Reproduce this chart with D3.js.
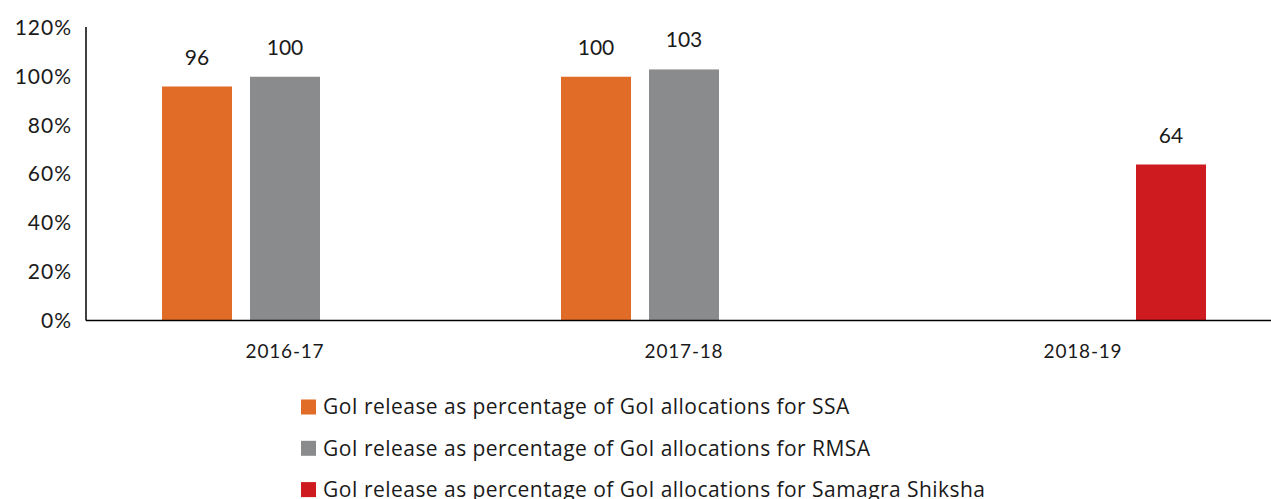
<!DOCTYPE html>
<html><head><meta charset="utf-8">
<script src="https://cdn.jsdelivr.net/npm/d3@7"></script>
<style>body{margin:0;background:#fff}svg{display:block;font-family:Lato,"Open Sans",sans-serif}</style>
</head><body><svg id="c" width="1271" height="499"></svg>
<script>
const categories = ["2016-17", "2017-18", "2018-19"];
const seriesNames = [
  "GoI release as percentage of GoI allocations for SSA",
  "GoI release as percentage of GoI allocations for RMSA",
  "GoI release as percentage of GoI allocations for Samagra Shiksha"
];
const ssa = [96, 100, null];
const rmsa = [100, 103, null];
const samagra = [null, null, 64];
const yTicks = [0, 20, 40, 60, 80, 100, 120];
const colors = ["#E06C28", "#8A8B8D", "#CE1B20"];

const series = [ssa, rmsa, samagra];
const svg = d3.select("#c");
const left = 86, bottom = 320.5;
const y = d3.scaleLinear().domain([0, 120]).range([bottom, 28]);
const x0 = d3.scaleBand().domain(categories).range([85.5, 1282.5]);
const x1 = d3.scaleBand().domain(d3.range(3)).range([-132, 132]).paddingInner(18/88).paddingOuter(9/88);

// bars
categories.forEach((c, ci) => {
  series.forEach((s, si) => {
    const v = s[ci];
    if (v == null) return;
    const cx = x0(c) + x0.bandwidth()/2;
    const bx = cx + x1(si);
    svg.append("rect").attr("x", bx).attr("y", y(v)).attr("width", x1.bandwidth())
      .attr("height", y(0) - y(v)).attr("fill", colors[si]);
    svg.append("text").attr("x", bx + x1.bandwidth()/2).attr("y", y(v) - 22)
      .attr("text-anchor", "middle").attr("font-size", 21).attr("fill", "#1a1a1a").text(v);
  });
});

// y axis
const ya = svg.append("g").attr("transform", `translate(${left},0)`)
  .call(d3.axisLeft(y).tickValues(yTicks).tickFormat(d => d + "%").tickSize(0).tickPadding(14));
ya.select(".domain").attr("stroke", "#000").attr("stroke-width", 1.5).attr("d", `M0,${y(0)}V${y(120)-1}`);
ya.selectAll("text").attr("font-size", 21).attr("fill", "#1a1a1a").attr("font-family", "Lato").attr("letter-spacing", 1);

// x axis
const xa = svg.append("g").attr("transform", `translate(0,${bottom})`)
  .call(d3.axisBottom(x0).tickSize(0).tickPadding(24));
xa.select(".domain").attr("stroke", "#000").attr("stroke-width", 1.5).attr("d", `M${left},0H1271`);
xa.selectAll("text").attr("font-size", 19).attr("fill", "#1a1a1a").attr("font-family", "Lato").attr("letter-spacing", 0.8);

// legend
const lg = svg.append("g");
seriesNames.forEach((n, i) => {
  const yy = 399.5 + i * 41.3;
  lg.append("rect").attr("x", 301).attr("y", yy).attr("width", 15).attr("height", 15).attr("fill", colors[i]);
  lg.append("text").attr("x", 323).attr("y", yy + 7.5).attr("dy", "0.35em")
    .attr("font-size", 21).attr("letter-spacing", 0.45).attr("font-family", "'Open Sans'").attr("fill", "#1a1a1a").text(n);
});
</script></body></html>
